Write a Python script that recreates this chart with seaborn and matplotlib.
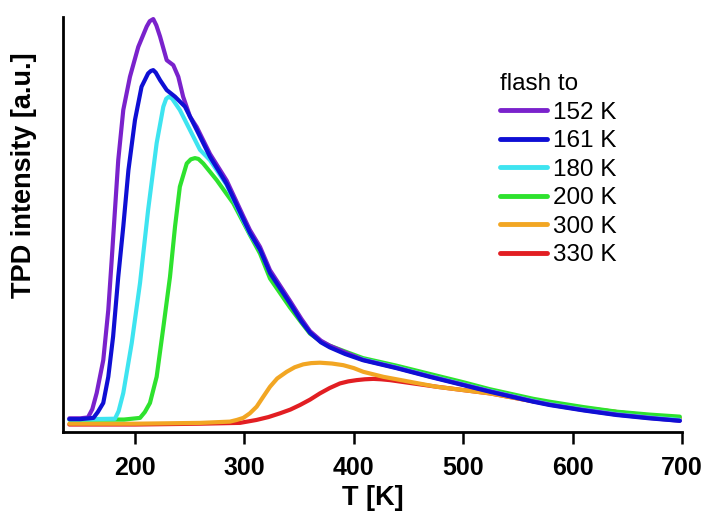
import numpy as np
import pandas as pd
import matplotlib
matplotlib.use("Agg")
import matplotlib.pyplot as plt
import seaborn as sns

# ---------------- data ----------------
labels = ["152 K", "161 K", "180 K", "200 K", "300 K", "330 K"]
colors = ["#7A22CC", "#0F0FD4", "#3EE4F0", "#2EE22E", "#F2A623", "#E21E22"]

T_152 = [140, 150, 157, 161, 165, 171, 175.6, 178.7, 181.7, 184.7, 189.3, 195.4, 203, 210.7,
         213.5, 216.7, 219.5, 222.9, 229, 235, 239.6, 244, 250.3, 256.4, 268.6, 283.8, 299, 305,
         314.3, 323.4, 341.7, 352, 360, 370, 378, 392, 408.4, 438.8, 469.3, 500, 524.5, 564,
         579, 610, 640, 670, 698]
I_152 = [3.3, 3.3, 3.5, 5.5, 9.4, 17.3, 29.4, 41.4, 53.5, 65.5, 77.6, 85.6, 92.8, 97.7,
         99.0, 99.5, 98.0, 95.3, 89.6, 88.4, 85.6, 80.8, 76.0, 73.5, 67.0, 60.6, 52.0, 48.7,
         44.6, 39.0, 31.6, 27.3, 24.3, 22.0, 20.8, 19.2, 17.4, 15.5, 13.4, 11.4, 9.8, 7.4,
         6.6, 5.3, 4.2, 3.4, 2.7]

T_161 = [140, 150, 162, 166, 171, 175.6, 180, 184.7, 189.3, 194, 200, 206, 212, 214.5, 216.7,
         219, 222.9, 229, 236.6, 245.7, 256.4, 268.6, 283.8, 299, 305, 314.3, 323.4, 341.7,
         352, 360, 370, 378, 392, 408.4, 438.8, 469.3, 500, 524.5, 564, 579, 610, 640, 670, 698]
I_161 = [3.1, 3.1, 3.4, 4.8, 7.0, 13.3, 23.0, 37.4, 49.5, 63.1, 75.2, 83.2, 86.4, 87.0, 87.2,
         86.6, 84.8, 82.4, 80.8, 78.4, 72.8, 66.3, 59.8, 51.3, 48.0, 43.9, 38.3, 31.0,
         26.7, 23.9, 21.6, 20.4, 18.8, 17.3, 15.4, 13.3, 11.3, 9.7, 7.3, 6.5, 5.2, 4.1, 3.3, 2.7]

T_180 = [140, 160, 181.7, 185, 189.3, 197, 204.6, 212, 219.8, 225.9, 228.5, 231, 234, 241,
         259.4, 268.6, 283.8, 299, 305, 314.3, 323.4, 341.7, 352, 360, 370, 378, 392, 408.4,
         438.8, 469.3, 500, 524.5, 564, 579, 610, 640, 670, 698]
I_180 = [3.1, 3.1, 3.2, 5.0, 9.4, 21.4, 35.9, 53.5, 69.6, 78.4, 80.3, 80.8, 80.3, 77.6,
         68.0, 65.5, 59.5, 51.0, 47.8, 43.9, 38.5, 31.3, 26.9, 24.1, 21.8, 20.6, 19.0, 17.5,
         15.6, 13.5, 11.5, 9.9, 7.5, 6.7, 5.4, 4.3, 3.5, 2.9]

T_200 = [140, 160, 190, 204.6, 209, 213.7, 219.8, 226, 232, 236.6, 241, 247.3, 251, 254.8,
         258, 262.4, 274.7, 289.9, 305, 314.3, 323.4, 341.7, 352, 360, 370, 378, 392, 408.4,
         438.8, 469.3, 500, 524.5, 564, 579, 610, 640, 670, 698]
I_200 = [3.0, 3.0, 3.0, 3.4, 4.8, 7.0, 13.3, 25.4, 37.4, 49.5, 59.1, 64.7, 65.7, 66.0,
         65.8, 64.7, 60.7, 55.1, 47.5, 43.0, 37.0, 30.0, 26.4, 23.7, 21.8, 20.8, 19.4, 17.8,
         16.0, 14.0, 12.0, 10.3, 8.0, 7.3, 6.0, 4.9, 4.2, 3.7]

T_300 = [140, 200, 260, 286.8, 293, 299, 305, 311.2, 317, 323.4, 330, 338.6, 346, 353.8, 361,
         369, 380, 390.4, 400, 408.7, 427, 451.4, 475.7, 500, 524.5, 564, 609.6, 650, 698]
I_300 = [2.0, 2.0, 2.2, 2.5, 2.9, 3.4, 4.5, 6.1, 8.4, 10.9, 12.9, 14.5, 15.6, 16.3, 16.6,
         16.7, 16.5, 16.1, 15.4, 14.5, 13.3, 12.1, 10.9, 10.1, 9.3, 7.4, 5.8, 4.5, 3.3]

T_330 = [140, 200, 260, 296, 311, 322, 332.5, 342, 350.8, 360, 369, 378, 387.3, 395, 402.6,
         410, 417.8, 425, 433, 454.4, 476, 500, 524.5, 564, 609.6, 650, 698]
I_330 = [1.8, 1.8, 2.0, 2.2, 2.9, 3.6, 4.5, 5.4, 6.5, 7.8, 9.3, 10.6, 11.7, 12.2, 12.5,
         12.7, 12.8, 12.7, 12.5, 11.7, 10.9, 10.1, 9.3, 7.4, 5.8, 4.5, 3.3]

x_ticks = [200, 300, 400, 500, 600, 700]

series = {"152 K": (T_152, I_152), "161 K": (T_161, I_161), "180 K": (T_180, I_180),
          "200 K": (T_200, I_200), "300 K": (T_300, I_300), "330 K": (T_330, I_330)}

frames = []
for lab in labels:
    t, i = series[lab]
    frames.append(pd.DataFrame({"T": t, "I": i, "flash": lab}))
df = pd.concat(frames, ignore_index=True)

# ---------------- style ----------------
sns.set_style("white")
plt.rcParams["font.family"] = ["Liberation Sans", "DejaVu Sans"]
plt.rcParams["text.color"] = "black"
plt.rcParams["axes.labelcolor"] = "black"
plt.rcParams["xtick.color"] = "black"
plt.rcParams["lines.solid_joinstyle"] = "round"
plt.rcParams["lines.solid_capstyle"] = "round"

fig = plt.figure(figsize=(7.05, 5.12), dpi=100)
ax = fig.add_axes([63 / 705, 80 / 512, 619 / 705, 415 / 512])

palette = dict(zip(labels, colors))
draw_order = ["330 K", "300 K", "200 K", "180 K", "152 K", "161 K"]
for z, lab in enumerate(draw_order):
    sub = df[df["flash"] == lab]
    sns.lineplot(data=sub, x="T", y="I", color=palette[lab], lw=3.0, ax=ax,
                 label=lab, sort=False, estimator=None, zorder=2 + z)

ax.set_xlim(134.2, 700)
ax.set_ylim(0, 100)
ax.set_xticks(x_ticks)
ax.set_yticks([])
ax.tick_params(axis="x", direction="out", length=8.5, width=1.8, pad=8.5,
               labelsize=18, bottom=True, colors="black", labelcolor="black")
for t in ax.get_xticklabels():
    t.set_fontweight("bold")

for s in ["top", "right"]:
    ax.spines[s].set_visible(False)
for s in ["left", "bottom"]:
    ax.spines[s].set_linewidth(2.0)
    ax.spines[s].set_color("black")

ax.set_xlabel("T [K]", fontsize=19.5, fontweight="bold", color="black")
ax.set_ylabel("TPD intensity [a.u.]", fontsize=19.5, fontweight="bold", color="black")
ax.xaxis.set_label_coords(0.5, -0.128)
ax.yaxis.set_label_coords(-0.042, 0.619)

handles, labs = ax.get_legend_handles_labels()
hmap = dict(zip(labs, handles))
leg = ax.legend([hmap[l] for l in labels], labels, title="flash to",
                loc="upper left", bbox_to_anchor=(500 / 705, 1 - 73 / 512),
                bbox_transform=fig.transFigure, frameon=False, fontsize=17.5,
                title_fontsize=17.5, handlelength=1.95, handletextpad=0.22,
                labelspacing=0.27, borderpad=0, borderaxespad=0, alignment="left")
for h in leg.get_lines():
    h.set_linewidth(3.5)
for t in leg.get_texts():
    t.set_color("black")
leg.get_title().set_color("black")

fig.savefig("out.png", dpi=100)
